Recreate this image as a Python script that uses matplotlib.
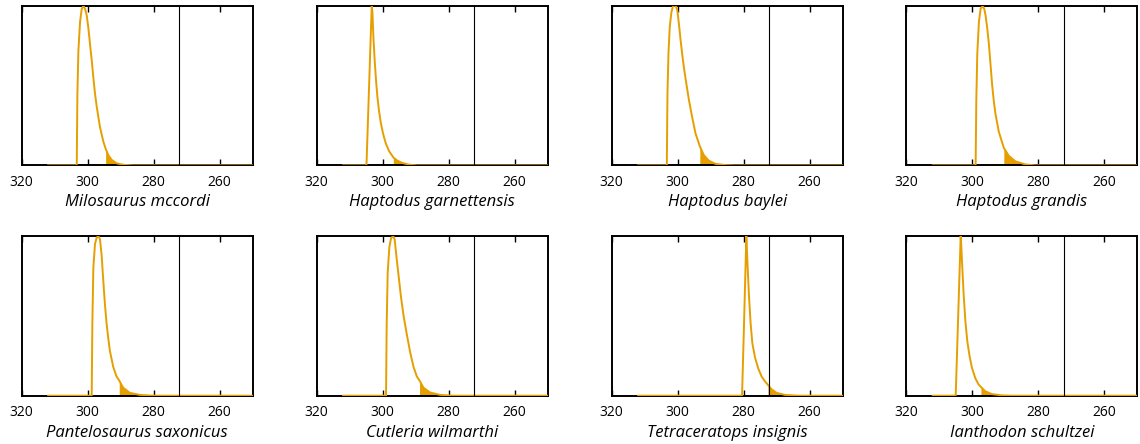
import matplotlib
matplotlib.use("Agg")
import matplotlib.pyplot as plt
import numpy as np

plt.rcParams["font.family"] = ["Open Sans", "DejaVu Sans"]

# Taxon names (panel order, row by row)
taxa = [
    "Milosaurus mccordi", "Haptodus garnettensis", "Haptodus baylei", "Haptodus grandis",
    "Pantelosaurus saxonicus", "Cutleria wilmarthi", "Tetraceratops insignis", "Ianthodon schultzei",
]

# Ages (Ma) and relative density (peak = 1)
milosaurus_age = [312.0, 303.32, 303.12, 302.82, 302.31, 301.81, 301.31, 300.80, 300.30, 299.80,
                  299.30, 298.79, 298.29, 297.79, 297.28, 296.28, 295.27, 294.57, 293.76, 292.76,
                  291.25, 289.24, 286.22, 250.0]
milosaurus_dens = [0.0, 0.0, 0.45, 0.72, 0.90, 0.98, 1.0, 0.98, 0.94, 0.86,
                   0.76, 0.66, 0.55, 0.45, 0.37, 0.24, 0.15, 0.105, 0.065, 0.035,
                   0.013, 0.004, 0.0, 0.0]

garnettensis_age = [312.0, 304.92, 304.12, 303.32, 303.12, 302.81, 302.41, 302.01, 301.61, 301.11,
                    300.60, 299.90, 299.10, 298.09, 296.78, 295.58, 294.07, 292.06, 289.55, 250.0]
garnettensis_dens = [0.0, 0.0, 0.5, 1.0, 0.96, 0.80, 0.65, 0.53, 0.43, 0.34,
                     0.27, 0.20, 0.14, 0.09, 0.05, 0.03, 0.015, 0.005, 0.0, 0.0]

baylei_age = [312.0, 303.3, 303.1, 302.8, 302.4, 301.9, 301.4, 300.9, 300.6, 300.1,
              299.6, 299.1, 298.6, 298.1, 297.6, 296.6, 295.6, 294.6, 293.3, 292.1,
              290.6, 288.6, 285.6, 282.6, 250.0]
baylei_dens = [0.0, 0.0, 0.45, 0.70, 0.87, 0.96, 1.0, 1.0, 1.0, 0.97,
               0.88, 0.78, 0.69, 0.61, 0.54, 0.41, 0.30, 0.20, 0.12, 0.065,
               0.03, 0.01, 0.002, 0.0, 0.0]

grandis_age = [312.0, 298.99, 298.79, 298.49, 297.99, 297.49, 296.88, 296.38, 295.98, 295.48,
               294.97, 294.47, 293.97, 293.47, 292.96, 291.96, 290.45, 288.94, 286.93, 283.92,
               280.90, 250.0]
grandis_dens = [0.0, 0.0, 0.40, 0.70, 0.90, 0.98, 1.0, 0.98, 0.94, 0.86,
                0.76, 0.63, 0.50, 0.40, 0.32, 0.21, 0.11, 0.06, 0.025, 0.006,
                0.0, 0.0]

pantelosaurus_age = [312.0, 298.79, 298.59, 298.29, 297.79, 297.29, 296.78, 296.28, 295.78, 295.28,
                     294.77, 294.27, 293.77, 293.27, 292.26, 291.26, 290.45, 289.25, 287.24, 284.22,
                     280.20, 250.0]
pantelosaurus_dens = [0.0, 0.0, 0.45, 0.80, 0.95, 0.99, 1.0, 0.98, 0.88, 0.72,
                      0.57, 0.45, 0.36, 0.28, 0.18, 0.12, 0.095, 0.05, 0.018, 0.005,
                      0.0, 0.0]

cutleria_age = [312.0, 298.99, 298.79, 298.49, 297.99, 297.49, 296.88, 296.38, 295.88, 295.18,
                294.47, 293.67, 292.66, 291.66, 290.65, 289.65, 288.84, 287.64, 285.63, 282.61,
                278.59, 250.0]
cutleria_dens = [0.0, 0.0, 0.45, 0.77, 0.93, 0.985, 1.0, 0.98, 0.88, 0.75,
                 0.62, 0.50, 0.38, 0.27, 0.18, 0.12, 0.095, 0.05, 0.02, 0.005,
                 0.0, 0.0]

tetraceratops_age = [312.0, 280.50, 279.90, 279.20, 279.00, 278.79, 278.39, 277.89, 277.39, 276.58,
                     275.58, 274.57, 273.57, 272.66, 271.56, 270.05, 267.54, 263.52, 250.0]
tetraceratops_dens = [0.0, 0.0, 0.45, 1.0, 0.90, 0.80, 0.62, 0.45, 0.33, 0.24,
                      0.17, 0.12, 0.09, 0.068, 0.04, 0.018, 0.005, 0.0, 0.0]

ianthodon_age = [312.0, 305.03, 304.32, 303.52, 303.32, 303.12, 302.61, 302.11, 301.51, 300.80,
                 300.10, 299.10, 298.09, 297.39, 296.08, 294.07, 291.06, 288.04, 250.0]
ianthodon_dens = [0.0, 0.0, 0.47, 1.0, 0.93, 0.84, 0.63, 0.47, 0.34, 0.245,
                  0.175, 0.11, 0.07, 0.055, 0.028, 0.01, 0.002, 0.0, 0.0]

# Age where the shaded tail starts (Ma)
shade_start = [294.57, 296.78, 293.3, 290.45, 290.45, 288.84, 272.66, 297.39]

# Reference boundary (Ma)
boundary = 272.3

ages = [milosaurus_age, garnettensis_age, baylei_age, grandis_age,
        pantelosaurus_age, cutleria_age, tetraceratops_age, ianthodon_age]
densities = [milosaurus_dens, garnettensis_dens, baylei_dens, grandis_dens,
             pantelosaurus_dens, cutleria_dens, tetraceratops_dens, ianthodon_dens]

ORANGE = "#E69F00"
W, H = 1140, 444
lefts = [21.7, 316.7, 611.7, 906.3]
tops = [5.7, 236.0]
ancho, alto = 231.0, 159.7

fig = plt.figure(figsize=(W / 100, H / 100), dpi=100)

for k, nombre in enumerate(taxa):
    fila, col = divmod(k, 4)
    ax = fig.add_axes([lefts[col] / W, 1 - (tops[fila] + alto) / H, ancho / W, alto / H])
    edad = np.array(ages[k])
    dens = np.array(densities[k])

    ax.plot(edad, dens, color=ORANGE, lw=1.4, zorder=3)
    cola = edad <= shade_start[k]
    ax.fill_between(edad[cola], 0, dens[cola], color=ORANGE, lw=0, zorder=2)
    ax.axvline(boundary, color="black", lw=0.8, zorder=4)

    ax.set_xlim(320, 250)
    ax.set_ylim(0, 1)
    ax.set_xticks([320, 300, 280, 260])
    ax.set_yticks([])
    ax.tick_params(axis="x", direction="in", top=True, length=4, width=1,
                   labelsize=10, pad=7)
    for s in ax.spines.values():
        s.set_linewidth(1.4)
    ax.set_xlabel(nombre, fontsize=12, style="italic", labelpad=3)

fig.savefig("out.png", dpi=100)
